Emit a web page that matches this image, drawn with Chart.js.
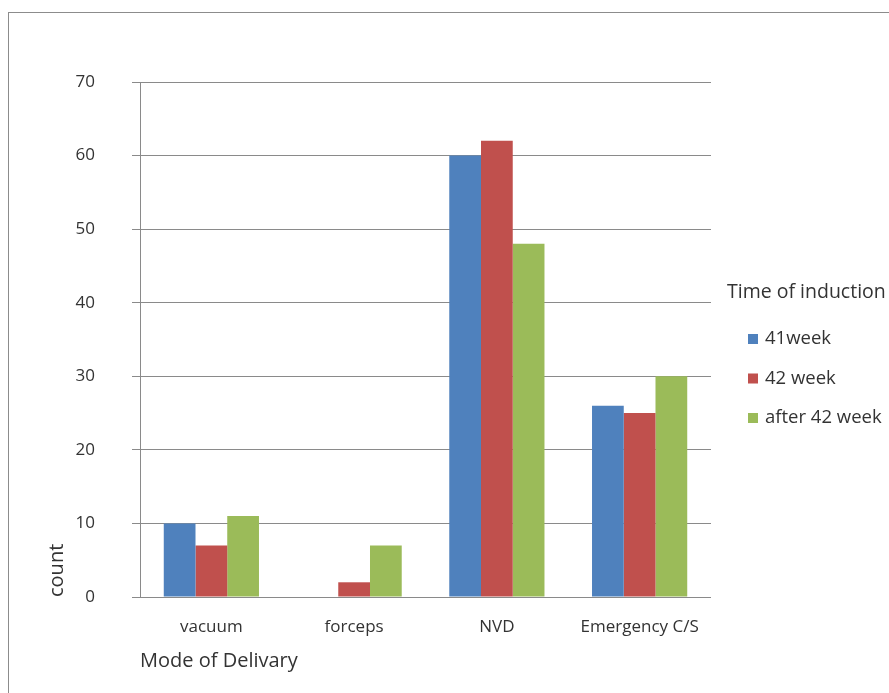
<!DOCTYPE html>
<html>
<head>
<meta charset="utf-8">
<script src="https://cdn.jsdelivr.net/npm/chart.js@4"></script>
<style>
  html, body { margin: 0; padding: 0; background: #ffffff; }
  #wrap { position: relative; width: 889px; height: 693px; }
</style>
</head>
<body>
<div id="wrap"><canvas id="chart" width="889" height="693"></canvas></div>
<script>
// Delivery mode counts by time of induction
const categories = ['vacuum', 'forceps', 'NVD', 'Emergency C/S'];
const seriesNames = ['41week', '42 week', 'after 42 week'];
const week41 = [10, 0, 60, 26];
const week42 = [7, 2, 62, 25];
const after42 = [11, 7, 48, 30];
const yTicks = [0, 10, 20, 30, 40, 50, 60, 70];

const colors = ['#4F81BD', '#C0504D', '#9BBB59'];
const FONT = '"Open Sans", "Liberation Sans", sans-serif';
const TEXT = '#333333';
const GRID = '#8a8a8a';

// Outer frame around the chart
const framePlugin = {
  id: 'frame',
  beforeDraw(chart) {
    const ctx = chart.ctx;
    ctx.save();
    ctx.fillStyle = '#ffffff';
    ctx.fillRect(0, 0, chart.width, chart.height);
    ctx.strokeStyle = '#8c8c8c';
    ctx.lineWidth = 1;
    ctx.strokeRect(8.5, 12.5, chart.width + 20, chart.height + 20);
    ctx.restore();
  }
};

// Legend block on the right: title plus square swatches
const sideLegend = {
  id: 'sideLegend',
  afterDraw(chart) {
    const ctx = chart.ctx;
    ctx.save();
    ctx.textBaseline = 'middle';
    ctx.textAlign = 'left';
    ctx.fillStyle = TEXT;
    ctx.font = '19.5px ' + FONT;
    ctx.fillText('Time of induction', 727, 292);
    ctx.font = '18.5px ' + FONT;
    chart.data.datasets.forEach((ds, i) => {
      const y = 339 + i * 39.5;
      ctx.fillStyle = ds.backgroundColor;
      ctx.fillRect(748, y - 5, 10, 10);
      ctx.fillStyle = TEXT;
      ctx.fillText(ds.label, 765, y);
    });
    ctx.restore();
  }
};

const seriesValues = [week41, week42, after42];

new Chart(document.getElementById('chart'), {
  type: 'bar',
  data: {
    labels: categories,
    datasets: seriesNames.map((name, i) => ({
      label: name,
      data: seriesValues[i],
      backgroundColor: colors[i],
      borderWidth: 0,
      categoryPercentage: 0.667,
      barPercentage: 1.0
    }))
  },
  options: {
    responsive: false,
    animation: false,
    devicePixelRatio: 1,
    layout: { padding: { top: 82, left: 44, right: 178, bottom: 20 } },
    plugins: {
      legend: { display: false },
      tooltip: { enabled: false }
    },
    scales: {
      x: {
        afterFit(scale) { scale.height = 76; },
        grid: { display: false, drawTicks: false },
        border: { display: false },
        ticks: { color: TEXT, font: { family: FONT, size: 17 }, padding: 20, maxRotation: 0 },
        title: {
          display: true,
          text: 'Mode of Delivary',
          align: 'start',
          color: TEXT,
          font: { family: FONT, size: 20 },
          padding: { top: 0, bottom: 0 }
        }
      },
      y: {
        min: 0,
        max: 70,
        afterBuildTicks(scale) { scale.ticks = yTicks.map(v => ({ value: v })); },
        afterFit(scale) { scale.width = 96; },
        grid: { color: GRID, lineWidth: 1, tickLength: 8, drawTicks: true, tickColor: GRID },
        border: { display: true, color: GRID, width: 1 },
        ticks: { color: TEXT, font: { family: FONT, size: 17 }, padding: 37 },
        title: {
          display: true,
          text: 'count',
          align: 'start',
          color: TEXT,
          font: { family: FONT, size: 20 },
          padding: { top: 1, bottom: 0 }
        }
      }
    }
  },
  plugins: [framePlugin, sideLegend]
});
</script>
</body>
</html>
